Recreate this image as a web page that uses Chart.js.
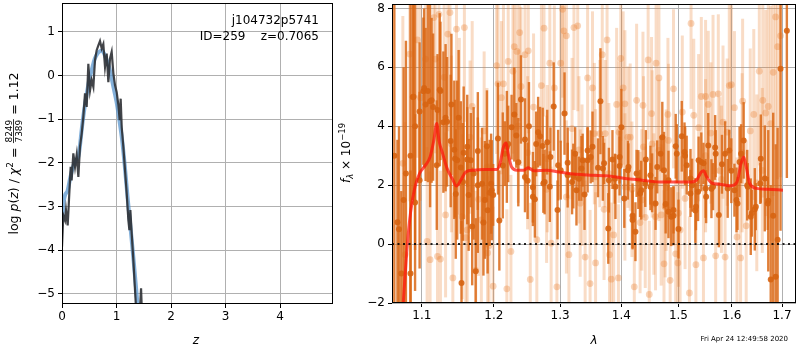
<!DOCTYPE html>
<html>
<head>
<meta charset="utf-8">
<script src="https://cdn.jsdelivr.net/npm/chart.js@4.4.1/dist/chart.umd.min.js"></script>
<style>
  html, body { margin: 0; padding: 0; background: #fff; }
  #wrap { position: relative; width: 800px; height: 350px; }
  canvas { position: absolute; top: 0; }
  #pz { left: 0; }
  #spec { left: 335px; }
</style>
</head>
<body>
<div id="wrap">
  <canvas id="pz" width="340" height="350"></canvas>
  <canvas id="spec" width="465" height="350"></canvas>
</div>
<script>
// ---- p(z) panel ----
const zTicks = [0, 1, 2, 3, 4];
const pzTicks = [-5, -4, -3, -2, -1, 0, 1];
const pzZ = [0.0,0.024,0.055,0.073,0.104,0.128,0.159,0.177,0.208,0.239,
  0.269,0.300,0.330,0.361,0.391,0.422,0.453,0.483,0.514,0.544,
  0.575,0.605,0.636,0.667,0.697,0.728,0.758,0.789,0.820,0.850,
  0.881,0.911,0.942,0.972,1.003,1.034,1.058,1.076,1.095,1.125,
  1.156,1.187,1.217,1.236,1.254,1.278,1.309,1.339,1.370,1.413,
  1.450,1.474];
const pzLog = [-3.92,-3.20,-3.31,-3.08,-3.43,-2.85,-2.09,-2.40,-1.78,-2.09,
  -1.82,-2.32,-1.63,-1.33,-0.95,-0.41,-0.72,0.27,-0.34,-0.11,
  -0.26,0.35,0.58,0.69,0.79,0.62,0.72,0.20,0.50,-0.15,
  0.39,0.54,0.05,-0.22,-0.38,-0.68,-1.02,-0.53,-1.18,-1.63,
  -2.17,-2.70,-3.31,-3.54,-3.08,-3.62,-4.23,-4.91,-5.60,-5.75,
  -4.87,-5.75];
const smZ = [0.0,0.03,0.06,0.10,0.15,0.20,0.25,0.30,0.33,0.36,
  0.40,0.45,0.50,0.55,0.60,0.65,0.70,0.75,0.80,0.85,
  0.90,0.95,1.00,1.05,1.10,1.15,1.20,1.25,1.30,1.35,1.40];
const smLog = [-3.35,-2.9,-2.72,-2.65,-2.35,-2.1,-1.95,-1.85,-1.6,-1.25,
  -0.85,-0.45,-0.1,0.15,0.38,0.5,0.56,0.55,0.42,0.25,
  0.0,-0.3,-0.6,-1.0,-1.45,-2.05,-2.75,-3.4,-4.05,-4.75,-5.45];

// ---- spectrum panel ----
const lamTicks = [1.1, 1.2, 1.3, 1.4, 1.5, 1.6, 1.7];
const fluxTicks = [-2, 0, 2, 4, 6, 8];
const lamMin = 1.061, lamMax = 1.729;

const darkLam = [1.064,1.070,1.073,1.076,1.079,1.085,1.088,1.091,1.097,1.102,
  1.105,1.113,1.120,1.124,1.129,1.132,1.140,1.145,1.146,1.150,
  1.154,1.156,1.162,1.164,1.169,1.174,1.177,1.185,1.190,1.194,
  1.197,1.206,1.208,1.213,1.219,1.230,1.240,1.246,1.250,1.252,
  1.258,1.261,1.266,1.273,1.276,1.284,1.290,1.297,1.307,1.312,
  1.321,1.326,1.334,1.339,1.344,1.352,1.361,1.365,1.369,1.378,
  1.385,1.390,1.397,1.400,1.405,1.411,1.419,1.424,1.429,1.434,
  1.442,1.450,1.453,1.462,1.471,1.477,1.482,1.487,1.491,1.495,
  1.500,1.506,1.511,1.515,1.522,1.531,1.536,1.542,1.550,1.555,
  1.561,1.568,1.575,1.581,1.587,1.592,1.599,1.609,1.615,1.623,
  1.630,1.637,1.645,1.657,1.665,1.672,1.677,1.682,1.687,1.691,
  1.697,1.710,
  1.068,1.085,1.089,1.091,1.097,1.103,1.108,1.111,1.115,1.121,
  1.125,1.134,1.139,1.144,1.148,1.153,1.157,1.162,1.167,1.171,
  1.177,1.183,1.187,1.191,1.196,1.199,1.216,1.221,1.226,1.233,
  1.236,1.246,1.258,1.263,1.269,1.274,1.280,1.285,1.296,1.301,
  1.312,1.319,1.324,1.330,1.336,1.344,1.349,1.371,1.379,1.389,
  1.397,1.412,1.419,1.426,1.432,1.441,1.450,1.459,1.468,1.474,
  1.482,1.491,1.497,1.512,1.522,1.525,1.532,1.537,1.546,1.551,
  1.564,1.569,1.595,1.605,1.611,1.618,1.631,1.639,1.647,1.656,
  1.671];
const darkFlux = [3.0,0.5,-1.0,1.5,2.40,-1.0,4.99,1.41,2.17,5.19,
  4.74,4.88,2.68,5.24,4.14,4.29,4.74,2.90,1.70,4.29,
  -1.32,2.11,2.87,1.67,0.60,-0.92,3.16,0.73,3.32,1.74,
  1.83,3.58,0.80,2.67,3.30,4.40,4.91,3.55,2.15,4.00,
  1.93,1.52,3.80,3.33,2.11,1.95,4.67,2.68,4.43,2.76,
  2.31,1.83,2.57,1.68,2.85,3.30,2.59,4.85,2.57,0.53,
  2.87,1.95,2.65,3.97,1.55,2.51,0.96,0.42,2.19,1.83,
  2.87,2.34,2.08,2.62,3.63,1.36,2.17,0.93,0.96,3.32,
  0.51,3.66,3.13,2.68,2.23,1.14,1.78,2.79,1.89,3.35,
  1.88,3.28,0.99,2.71,3.07,1.89,2.49,1.50,2.79,3.52,
  2.00,0.93,1.18,2.90,2.23,1.47,-1.20,0.96,-1.11,0.15,
  5.95,7.24,
  0.74,3.0,5.0,4.0,4.5,5.3,5.2,4.85,4.65,4.55,
  5.2,4.15,3.5,3.2,2.85,2.6,3.1,3.3,2.85,2.4,
  2.0,2.05,1.5,1.15,2.05,1.67,3.07,3.4,3.97,3.69,
  2.78,2.28,1.61,3.4,3.66,2.06,3.46,2.96,1.16,2.51,
  2.34,2.11,3.07,2.22,2.85,3.18,2.96,2.74,2.17,2.22,
  2.96,2.62,0.82,2.40,1.72,2.06,1.95,1.38,3.07,2.51,
  1.10,1.16,3.07,3.0,1.72,2.0,1.27,2.85,2.74,1.61,
  1.95,3.07,3.18,1.83,1.38,3.07,1.95,1.05,1.27,2.06,
  1.38];
const darkErr = [6.0,3.5,2.8,4.5,4.5,3.5,3.5,3.0,3.0,2.5,
  2.6,2.8,2.2,2.6,2.4,2.5,2.4,2.0,2.2,2.3,
  2.1,2.0,2.2,1.9,2.0,1.8,2.0,1.8,1.9,1.8,
  1.7,1.9,1.7,1.8,1.9,1.6,1.5,1.4,1.3,1.5,
  1.2,1.3,1.2,1.3,1.1,1.2,1.5,1.2,1.4,1.2,
  1.1,1.2,1.1,1.2,1.1,1.2,1.0,1.8,1.1,1.2,
  1.0,1.1,1.0,1.3,1.0,1.0,1.1,1.0,1.0,1.0,
  1.0,1.0,1.0,0.9,1.2,1.0,1.0,1.0,1.0,1.1,
  1.0,1.2,1.0,1.0,1.0,1.1,1.0,1.0,1.0,1.1,
  1.0,1.1,1.1,1.0,1.1,1.0,1.1,1.1,1.2,1.3,
  1.2,1.3,1.4,1.5,1.8,2.4,3.2,3.5,4.5,3.8,
  5.5,5.0,
  2.8,6.0,3.3,4.2,2.35,2.7,3.1,3.6,2.5,1.9,
  2.35,2.2,2.25,2.35,2.7,2.25,2.25,1.35,1.6,2.25,
  2.3,1.9,2.0,2.15,1.7,1.05,1.1,1.3,1.1,1.1,
  1.5,1.2,1.0,1.1,1.0,1.0,1.1,1.0,1.0,1.0,
  1.1,1.1,0.9,0.75,0.9,0.8,0.9,0.7,1.1,0.85,
  0.9,0.8,1.0,0.8,0.8,0.8,0.8,0.9,0.6,1.3,
  0.9,0.8,1.0,1.0,0.8,0.9,0.8,0.8,0.7,0.9,
  0.8,0.8,0.7,0.9,0.9,1.0,0.8,0.8,0.8,0.7,
  0.9];

const lightLam = [1.075,1.078,1.084,1.094,1.098,1.105,1.107,1.111,1.116,1.118,
  1.121,1.123,1.125,1.130,1.132,1.135,1.138,1.142,1.147,1.151,
  1.155,1.158,1.160,1.162,1.166,1.169,1.174,1.178,1.182,1.186,
  1.191,1.193,1.199,1.204,1.206,1.211,1.214,1.219,1.221,1.225,
  1.228,1.230,1.234,1.236,1.238,1.240,1.246,1.251,1.254,1.259,
  1.264,1.271,1.275,1.279,1.284,1.286,1.291,1.295,1.301,1.304,
  1.306,1.310,1.314,1.319,1.322,1.328,1.332,1.335,1.340,1.344,
  1.348,1.352,1.357,1.364,1.368,1.371,1.376,1.380,1.383,1.387,
  1.392,1.395,1.399,1.403,1.406,1.411,1.418,1.422,1.426,1.432,
  1.437,1.441,1.446,1.448,1.452,1.456,1.460,1.465,1.469,1.474,
  1.478,1.481,1.485,1.491,1.495,1.499,1.503,1.507,1.512,1.520,
  1.523,1.528,1.532,1.537,1.542,1.546,1.550,1.555,1.560,1.564,
  1.569,1.574,1.577,1.583,1.587,1.591,1.595,1.599,1.605,1.610,
  1.617,1.621,1.628,1.636,1.643,1.649,1.654,1.661,1.667,1.672,
  1.677,1.682,1.687,1.691,1.697,1.355,1.373,1.396,1.415,1.438,
  1.453,1.465,1.482,1.357,1.379,1.406,1.435,1.459,1.476,1.500,
  1.190,1.250,1.280,1.310,1.330,1.550,1.580,1.620,1.660,1.140];
const lightFlux = [2.74,-0.36,6.45,6.93,4.97,6.28,0.09,-0.53,7.69,6.28,
  -0.42,7.80,-0.51,5.66,0.99,7.13,7.86,-1.15,7.30,4.00,
  0.93,7.35,0.22,0.48,3.63,4.67,-0.89,1.52,0.82,3.84,
  -0.30,-0.06,-1.43,6.06,5.44,4.97,5.44,-1.52,6.20,-0.25,
  5.87,6.70,6.54,4.00,7.18,5.35,6.43,6.56,-1.20,4.65,
  0.15,5.38,7.33,1.86,6.14,0.03,5.30,-1.45,6.14,7.97,
  7.24,7.07,-0.36,3.92,7.35,7.41,1.39,2.34,-0.44,5.64,
  -1.34,5.30,-0.64,3.75,6.43,1.18,6.93,-0.36,-1.19,0.31,
  4.74,-1.15,6.30,5.30,4.76,3.63,1.86,-1.45,4.88,0.73,
  4.71,0.91,6.25,-1.71,4.43,1.36,6.14,5.64,0.99,-0.67,
  2.17,4.40,-1.23,5.27,-0.33,-0.64,0.48,4.48,1.55,-1.66,
  7.49,4.37,-0.70,3.95,5.01,-0.47,5.01,4.74,3.77,5.08,
  -0.40,5.10,2.49,4.14,-0.44,3.80,5.38,5.41,4.63,0.24,
  -0.47,4.85,0.62,3.84,4.40,2.08,5.87,4.88,4.45,4.67,
  4.09,5.83,7.71,6.70,7.07,3.75,3.75,3.80,3.63,3.30,
  3.40,3.18,3.52,2.28,2.39,1.94,1.50,0.93,1.27,1.05,
  2.60,3.10,2.90,1.60,3.20,3.00,2.20,3.10,2.50,3.40];
const lightErr = [5.0,4.5,5.0,4.0,3.5,3.5,3.2,3.0,3.5,3.2,
  3.0,3.4,3.0,3.2,2.8,3.3,3.5,2.8,3.2,3.0,
  2.8,3.2,2.7,2.8,2.6,2.9,2.7,2.6,2.8,2.7,
  2.6,2.8,2.7,3.0,2.8,2.6,2.9,2.7,3.0,2.6,
  2.8,3.0,2.7,2.6,3.0,2.7,2.9,2.8,2.6,2.5,
  2.6,2.8,3.0,2.5,2.7,2.6,2.8,2.5,2.7,3.0,
  2.8,2.7,2.5,2.4,2.8,2.9,2.5,2.4,2.6,2.7,
  2.5,2.6,2.4,2.5,2.8,2.4,2.9,2.5,2.6,2.4,
  2.6,2.5,2.8,2.6,2.5,2.4,2.3,2.5,2.6,2.4,
  2.5,2.4,2.7,2.5,2.6,2.4,2.7,2.6,2.4,2.5,
  2.4,2.6,2.5,2.7,2.5,2.4,2.5,2.6,2.4,2.6,
  2.9,2.6,2.5,2.5,2.7,2.6,2.6,2.5,2.4,2.7,
  2.6,2.7,2.5,2.6,2.6,2.5,2.8,2.7,2.6,2.7,
  2.8,2.8,2.9,2.8,2.9,3.0,3.2,3.3,3.5,3.8,
  4.0,4.2,4.5,4.5,4.8,2.4,2.5,2.4,2.5,2.4,
  2.5,2.4,2.6,2.3,2.4,2.5,2.4,2.5,2.4,2.5,
  2.7,2.6,2.5,2.6,2.5,2.6,2.5,2.7,2.8,3.0];

const modelLam = [1.074,1.081,1.085,1.091,1.097,1.105,1.111,1.116,1.120,1.123,
  1.128,1.134,1.141,1.147,1.153,1.160,1.171,1.185,1.204,1.209,
  1.214,1.218,1.221,1.226,1.234,1.244,1.251,1.259,1.279,1.298,
  1.325,1.352,1.379,1.406,1.435,1.465,1.494,1.524,1.533,1.542,
  1.546,1.552,1.561,1.577,1.598,1.610,1.618,1.623,1.628,1.635,
  1.648,1.671,1.702];
const modelFlux = [-2.6,0.03,1.06,1.95,2.40,2.68,2.96,3.52,4.09,3.52,
  3.07,2.57,2.23,1.97,2.17,2.45,2.51,2.53,2.53,2.74,
  3.30,3.43,3.07,2.62,2.51,2.51,2.59,2.49,2.51,2.45,
  2.37,2.34,2.31,2.23,2.17,2.11,2.11,2.11,2.17,2.45,
  2.49,2.28,2.08,2.03,1.98,2.11,2.74,2.96,2.62,2.06,
  1.89,1.86,1.83];

const FONT = 'DejaVu Sans';
const fontN = (s) => s + 'px "' + FONT + '"';
const fontI = (s) => 'italic ' + s + 'px "' + FONT + '"';
const minus = (v) => String(v).replace('-', '\u2212');
const pts = (xs, ys) => xs.map((x, i) => ({ x: x, y: ys[i] }));

// error bars, drawn under each dataset's markers
const errorBars = {
  id: 'errorBars',
  beforeDatasetDraw(chart, args) {
    const ds = chart.data.datasets[args.index];
    if (!ds.errs) return;
    const { ctx, chartArea: a, scales } = chart;
    ctx.save();
    ctx.beginPath();
    ctx.rect(a.left, a.top, a.right - a.left, a.bottom - a.top);
    ctx.clip();
    ctx.strokeStyle = ds.errColor;
    ctx.lineWidth = ds.errWidth;
    ds.data.forEach((p, i) => {
      const x = scales.x.getPixelForValue(p.x);
      ctx.beginPath();
      ctx.moveTo(x, scales.y.getPixelForValue(p.y - ds.errs[i]));
      ctx.lineTo(x, scales.y.getPixelForValue(p.y + ds.errs[i]));
      ctx.stroke();
    });
    ctx.restore();
  }
};

// black frame round the axes
const frame = {
  id: 'frame',
  afterDraw(chart) {
    const { ctx, chartArea: a } = chart;
    ctx.save();
    ctx.strokeStyle = '#000';
    ctx.lineWidth = 1;
    ctx.strokeRect(Math.round(a.left) + 0.5, Math.round(a.top) + 0.5,
      Math.round(a.right - a.left) - 1, Math.round(a.bottom - a.top) - 1);
    ctx.restore();
  }
};

// text made of runs with different fonts
function drawRuns(ctx, runs, x, y, align) {
  let w = 0;
  runs.forEach(r => {
    ctx.font = r.f;
    r.w = r.frac
      ? Math.max(ctx.measureText(r.frac[0]).width, ctx.measureText(r.frac[1]).width) + 2
      : ctx.measureText(r.t).width;
    w += r.w;
  });
  let cx = align === 'center' ? x - w / 2 : (align === 'right' ? x - w : x);
  ctx.textAlign = 'left';
  ctx.textBaseline = 'alphabetic';
  runs.forEach(r => {
    ctx.font = r.f;
    if (r.frac) {
      ctx.textAlign = 'center';
      ctx.fillText(r.frac[0], cx + r.w / 2, y - 6);
      ctx.fillText(r.frac[1], cx + r.w / 2, y + 4.5);
      ctx.fillRect(cx + 0.5, y - 4.5, r.w - 1, 0.8);
      ctx.textAlign = 'left';
    } else {
      ctx.fillText(r.t, cx, y + (r.dy || 0));
    }
    cx += r.w;
  });
}

const pzText = {
  id: 'pzText',
  afterDraw(chart) {
    const ctx = chart.ctx;
    ctx.save();
    ctx.fillStyle = '#000';
    ctx.translate(17.5, 153.5);
    ctx.rotate(-Math.PI / 2);
    drawRuns(ctx, [
      { t: 'log ', f: fontN(12.5) }, { t: 'p', f: fontI(12.5) }, { t: '(', f: fontN(12.5) },
      { t: 'z', f: fontI(12.5) }, { t: ') / ', f: fontN(12.5) }, { t: '\u03c7', f: fontI(12.5) },
      { t: '2', f: fontN(9), dy: -5 }, { t: ' = ', f: fontN(12.5) },
      { frac: ['8249', '7389'], f: fontN(9) }, { t: ' = 1.12', f: fontN(12.5) }
    ], 0, 0, 'center');
    ctx.restore();
    ctx.save();
    ctx.fillStyle = '#000';
    drawRuns(ctx, [{ t: 'z', f: fontI(12) }], 196, 344, 'center');
    ctx.font = fontN(12);
    ctx.textAlign = 'right';
    ctx.textBaseline = 'alphabetic';
    ctx.fillText('j104732p5741', 319, 24);
    ctx.fillText('ID=259    z=0.7065', 319, 40);
    ctx.restore();
  }
};

const specText = {
  id: 'specText',
  afterDraw(chart) {
    const ctx = chart.ctx;
    ctx.save();
    ctx.fillStyle = '#000';
    ctx.translate(15, 153);
    ctx.rotate(-Math.PI / 2);
    drawRuns(ctx, [
      { t: 'f', f: fontI(12) }, { t: '\u03bb', f: fontI(8.5), dy: 2.5 },
      { t: ' \u00d7 10', f: fontN(12) }, { t: '\u221219', f: fontN(8.5), dy: -5 }
    ], 0, 0, 'center');
    ctx.restore();
    ctx.save();
    ctx.fillStyle = '#000';
    drawRuns(ctx, [{ t: '\u03bb', f: fontI(12) }], 259, 344, 'center');
    ctx.font = fontN(7);
    ctx.textAlign = 'right';
    ctx.textBaseline = 'middle';
    ctx.fillText('Fri Apr 24 12:49:58 2020', 453, 339.5);
    ctx.restore();
  }
};

function axis(extra, fixedSize, isX) {
  return Object.assign({
    grid: { color: '#b0b0b0', lineWidth: 1, tickLength: 4, tickColor: '#000', tickWidth: 1 },
    border: { display: false },
    ticks: { font: { family: FONT, size: 12 }, color: '#000', padding: isX ? 2 : 3,
      maxRotation: 0, autoSkip: false, callback: v => minus(v) },
    afterFit(s) {
      if (isX) s.height = fixedSize; else s.width = fixedSize;
      s.paddingLeft = 0; s.paddingRight = 0; s.paddingTop = 0; s.paddingBottom = 0;
    }
  }, extra);
}

const common = {
  responsive: false,
  animation: false,
  plugins: { legend: { display: false }, tooltip: { enabled: false } },
  events: []
};

new Chart(document.getElementById('pz'), {
  type: 'scatter',
  data: {
    datasets: [
      { data: pts(pzZ, pzLog), showLine: true, borderColor: 'rgba(45,48,52,0.9)',
        borderWidth: 2.2, pointRadius: 0, order: 1 },
      { data: pts(smZ, smLog), showLine: true, borderColor: 'rgba(90,150,205,0.75)',
        borderWidth: 4, pointRadius: 0, tension: 0.3, order: 2 }
    ]
  },
  options: Object.assign({}, common, {
    layout: { padding: { left: 0, right: 7, top: 3, bottom: 0 } },
    scales: {
      x: axis({ type: 'linear', min: 0, max: 4.97,
        afterBuildTicks: s => { s.ticks = zTicks.map(v => ({ value: v })); } }, 46, true),
      y: axis({ type: 'linear', min: -5.23, max: 1.66,
        afterBuildTicks: s => { s.ticks = pzTicks.map(v => ({ value: v })); } }, 62, false)
    }
  }),
  plugins: [frame, pzText]
});

new Chart(document.getElementById('spec'), {
  type: 'scatter',
  data: {
    datasets: [
      { data: [{ x: lamMin, y: 0 }, { x: lamMax, y: 0 }], showLine: true,
        borderColor: 'rgba(0,0,0,0.85)', borderWidth: 2, borderDash: [2, 3.5],
        pointRadius: 0, order: 1 },
      { data: pts(modelLam, modelFlux), showLine: true, borderColor: 'rgba(255,20,10,0.72)',
        borderWidth: 3, pointRadius: 0, cubicInterpolationMode: 'monotone', order: 2 },
      { data: pts(darkLam, darkFlux), errs: darkErr, errColor: 'rgba(218,105,22,0.85)',
        errWidth: 2.4, pointRadius: 3, pointBorderWidth: 0,
        pointBackgroundColor: 'rgba(215,100,18,0.9)', order: 3 },
      { data: pts(lightLam, lightFlux), errs: lightErr, errColor: 'rgba(235,130,50,0.28)',
        errWidth: 3, pointRadius: 3.4, pointBorderWidth: 0,
        pointBackgroundColor: 'rgba(232,125,45,0.32)', order: 4 }
    ]
  },
  options: Object.assign({}, common, {
    layout: { padding: { left: 0, right: 1, top: 3, bottom: 0 } },
    scales: {
      x: axis({ type: 'logarithmic', min: lamMin, max: lamMax,
        afterBuildTicks: s => { s.ticks = lamTicks.map(v => ({ value: v })); },
        ticks: { font: { family: FONT, size: 12 }, color: '#000', padding: 2,
          maxRotation: 0, autoSkip: false, callback: v => Number(v).toFixed(1) } }, 47, true),
      y: axis({ type: 'linear', min: -2, max: 8.15,
        afterBuildTicks: s => { s.ticks = fluxTicks.map(v => ({ value: v })); } }, 57, false)
    }
  }),
  plugins: [errorBars, frame, specText]
});
</script>
</body>
</html>
